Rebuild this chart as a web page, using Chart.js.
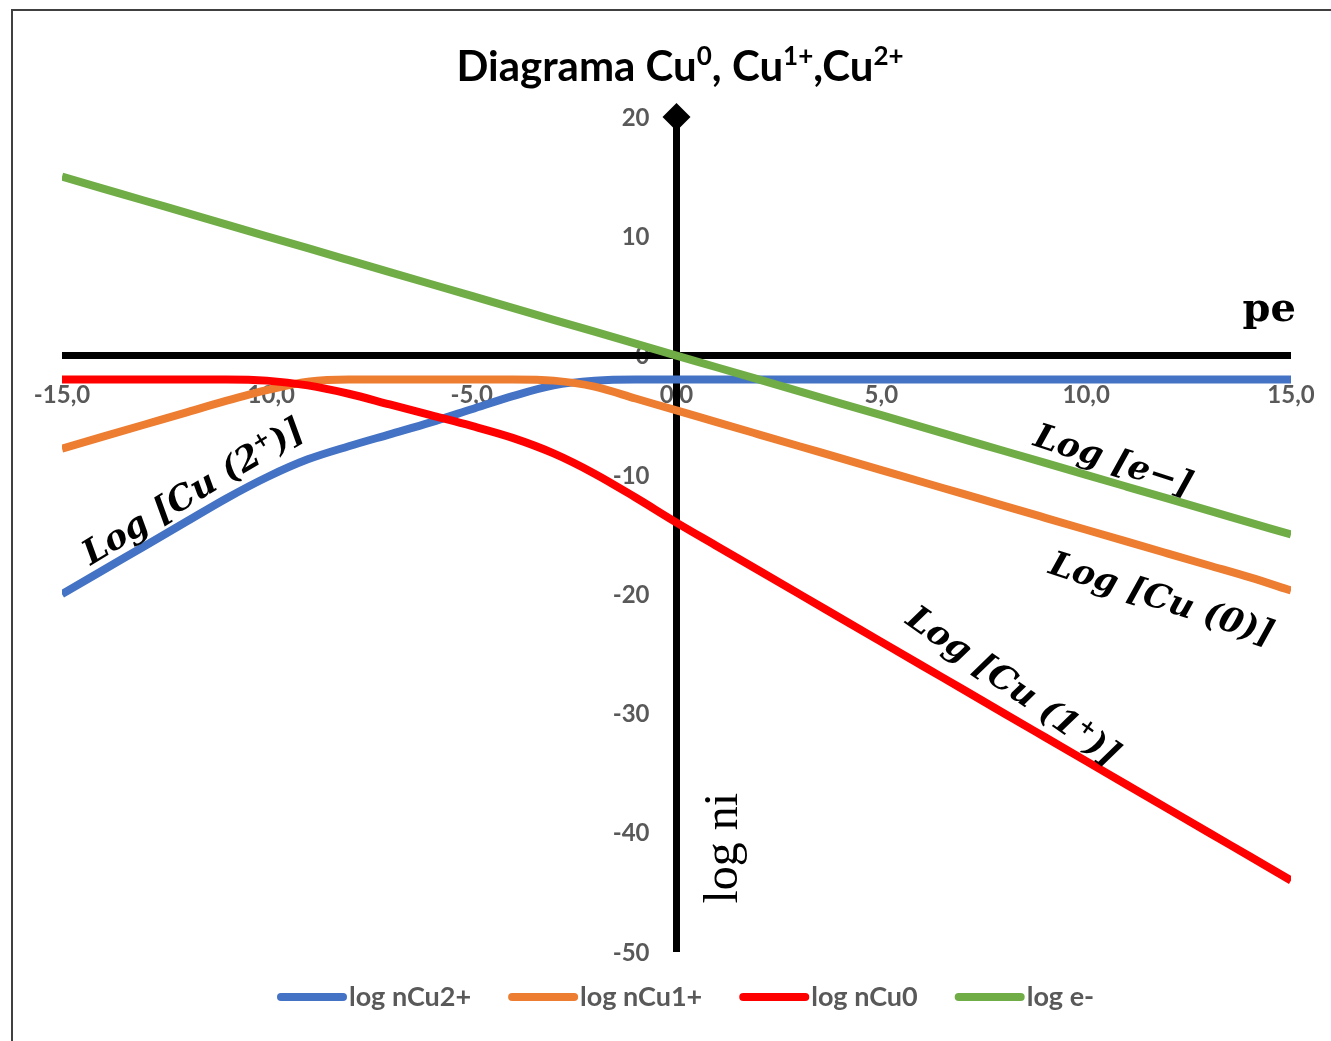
<!DOCTYPE html>
<html>
<head>
<meta charset="utf-8">
<title>Diagrama Cu0, Cu1+, Cu2+</title>
<script src="https://cdn.jsdelivr.net/npm/chart.js@4.4.1/dist/chart.umd.min.js"></script>
<style>
  html, body { margin: 0; padding: 0; background: #ffffff; }
  #wrap { width: 1331px; height: 1041px; }
</style>
</head>
<body>
<div id="wrap"><canvas id="chart" width="1331" height="1041"></canvas></div>
<script>
// pe values (x axis)
const pe = [-15, -14, -13, -12, -11, -10, -9, -8, -7, -6, -5, -4, -3, -2, -1,
            0, 1, 2, 3, 4, 5, 6, 7, 8, 9, 10, 11, 12, 13, 14, 15];

// log of each species at those pe values
const logCu2 = [-20.0, -18.0, -16.0, -14.0, -12.0, -10.2, -8.7, -7.6, -6.6, -5.6, -4.5, -3.4, -2.5, -2.1, -2.0,
                -2.0, -2.0, -2.0, -2.0, -2.0, -2.0, -2.0, -2.0, -2.0, -2.0, -2.0, -2.0, -2.0, -2.0, -2.0, -2.0];
const logCu1 = [-7.8, -6.8, -5.8, -4.8, -3.8, -2.9, -2.2, -2.0, -2.0, -2.0, -2.0, -2.0, -2.1, -2.6, -3.6,
                -4.6, -5.6, -6.6, -7.6, -8.6, -9.6, -10.6, -11.6, -12.6, -13.6, -14.6, -15.6, -16.6, -17.6, -18.6, -19.7];
const logCu0 = [-2.0, -2.0, -2.0, -2.0, -2.0, -2.1, -2.5, -3.2, -4.1, -5.0, -5.9, -6.9, -8.2, -9.9, -11.9,
                -14.0, -16.0, -18.0, -20.0, -22.0, -24.0, -26.0, -28.0, -30.0, -32.0, -34.0, -36.0, -38.0, -40.0, -42.0, -44.0];
const logE   = [15, 14, 13, 12, 11, 10, 9, 8, 7, 6, 5, 4, 3, 2, 1,
                0, -1, -2, -3, -4, -5, -6, -7, -8, -9, -10, -11, -12, -13, -14, -15];

// series names and colours
const seriesNames  = ['log nCu2+', 'log nCu1+', 'log nCu0', 'log e-'];
const seriesColors = ['#4472C4', '#ED7D31', '#FF0000', '#70AD47'];

// tick values
const xTickValues = [-15, -10, -5, 0, 5, 10, 15];
const yTickValues = [20, 10, 0, -10, -20, -30, -40, -50];

// title pieces: [text, superscript?]
const titleParts = [['Diagrama Cu', false], ['0', true], [', Cu', false], ['1+', true], [',Cu', false], ['2+', true]];

// curve labels, anchored at (pe, log) and rotated along the curves
const curveLabels = [
  { parts: [['Log [Cu (2', false], ['+', true], [')]', false]], pe: -14.3, log: -17.6, angle: -31 },
  { parts: [['Log [e\u2212]', false]],                            pe: 8.68,  log: -7.5,  angle: 18 },
  { parts: [['Log [Cu (0)]', false]],                             pe: 9.05,  log: -18.2, angle: 18 },
  { parts: [['Log [Cu (1', false], ['+', true], [')]', false]], pe: 5.56,  log: -22.4, angle: 35 }
];

function toPoints(ys) { return pe.map((x, i) => ({ x: x, y: ys[i] })); }
function fmtX(v) { return v.toFixed(1).replace('.', ','); }

// draws text made of normal and superscript pieces starting at (x, y) baseline
function drawRich(ctx, parts, x, y, size, family, weight, style) {
  let cx = x;
  for (const [t, sup] of parts) {
    const s = sup ? Math.round(size * 0.62) : size;
    ctx.font = `${style || 'normal'} ${weight} ${s}px ${family}`;
    ctx.fillText(t, cx, sup ? y - size * 0.38 : y);
    cx += ctx.measureText(t).width;
  }
  return cx - x;
}
function richWidth(ctx, parts, size, family, weight, style) {
  let w = 0;
  for (const [t, sup] of parts) {
    const s = sup ? Math.round(size * 0.62) : size;
    ctx.font = `${style || 'normal'} ${weight} ${s}px ${family}`;
    w += ctx.measureText(t).width;
  }
  return w;
}

const TICK_FONT = '"Lato", "Liberation Sans", sans-serif';
const TICK_COLOR = '#595959';

const crossAxes = {
  id: 'crossAxes',
  beforeDraw(chart) {
    const ctx = chart.ctx;
    ctx.save();
    ctx.fillStyle = '#ffffff';
    ctx.fillRect(0, 0, chart.width, chart.height);
    // outer frame (top and left edges)
    ctx.strokeStyle = '#404040';
    ctx.lineWidth = 2;
    ctx.beginPath();
    ctx.moveTo(1331, 10); ctx.lineTo(12, 10); ctx.lineTo(12, 1041);
    ctx.stroke();

    // title
    ctx.fillStyle = '#000000';
    ctx.textBaseline = 'alphabetic';
    ctx.textAlign = 'left';
    const tSize = 42;
    const tw = richWidth(ctx, titleParts, tSize, '"Lato", sans-serif', 'bold');
    drawRich(ctx, titleParts, 680 - tw / 2, 81, tSize, '"Lato", sans-serif', 'bold');
    ctx.restore();
  },
  beforeDatasetsDraw(chart) {
    const ctx = chart.ctx;
    const xs = chart.scales.x, ys = chart.scales.y;
    const x0 = xs.getPixelForValue(0), y0 = ys.getPixelForValue(0);
    ctx.save();
    // tick labels
    ctx.fillStyle = TICK_COLOR;
    ctx.font = `bold 24px ${TICK_FONT}`;
    ctx.textAlign = 'center';
    ctx.textBaseline = 'middle';
    for (const v of xTickValues) ctx.fillText(fmtX(v), xs.getPixelForValue(v), y0 + 40);
    ctx.textAlign = 'right';
    for (const v of yTickValues) ctx.fillText(String(v), x0 - 27, ys.getPixelForValue(v) + 1);

    // axis lines crossing at the origin
    ctx.strokeStyle = '#000000';
    ctx.lineWidth = 7;
    ctx.lineCap = 'butt';
    ctx.beginPath();
    ctx.moveTo(xs.getPixelForValue(-15), y0);
    ctx.lineTo(xs.getPixelForValue(15), y0);
    ctx.stroke();
    const yTop = ys.getPixelForValue(20), yBot = ys.getPixelForValue(-50);
    ctx.beginPath();
    ctx.moveTo(x0, yTop + 6);
    ctx.lineTo(x0, yBot);
    ctx.stroke();
    // diamond arrow head
    ctx.fillStyle = '#000000';
    ctx.beginPath();
    ctx.moveTo(x0, yTop - 14);
    ctx.lineTo(x0 + 14, yTop);
    ctx.lineTo(x0, yTop + 14);
    ctx.lineTo(x0 - 14, yTop);
    ctx.closePath();
    ctx.fill();

    // axis titles
    ctx.fillStyle = '#000000';
    ctx.textAlign = 'right';
    ctx.textBaseline = 'alphabetic';
    ctx.font = 'bold 40px "DejaVu Serif", serif';
    ctx.fillText('pe', 1296, 321);
    ctx.save();
    ctx.translate(x0 + 60, ys.getPixelForValue(-41.3));
    ctx.rotate(-Math.PI / 2);
    ctx.textAlign = 'center';
    ctx.font = 'normal 48px "Liberation Serif", serif';
    ctx.fillText('log ni', 0, 0);
    ctx.restore();
    ctx.restore();
  },
  afterDatasetsDraw(chart) {
    const ctx = chart.ctx;
    const xs = chart.scales.x, ys = chart.scales.y;
    ctx.save();
    ctx.fillStyle = '#000000';
    ctx.textAlign = 'left';
    ctx.textBaseline = 'alphabetic';
    for (const lab of curveLabels) {
      ctx.save();
      ctx.translate(xs.getPixelForValue(lab.pe), ys.getPixelForValue(lab.log));
      ctx.rotate(lab.angle * Math.PI / 180);
      drawRich(ctx, lab.parts, 0, 0, 34, '"DejaVu Serif", serif', 'bold', 'italic');
      ctx.restore();
    }

    // legend
    ctx.font = `bold 27px ${TICK_FONT}`;
    ctx.textBaseline = 'middle';
    let lx = 277;
    const ly = 997;
    seriesNames.forEach((name, i) => {
      ctx.strokeStyle = seriesColors[i];
      ctx.lineWidth = 8;
      ctx.lineCap = 'round';
      ctx.beginPath();
      ctx.moveTo(lx + 4, ly);
      ctx.lineTo(lx + 66, ly);
      ctx.stroke();
      ctx.fillStyle = TICK_COLOR;
      ctx.fillText(name, lx + 72, ly);
      lx += 72 + ctx.measureText(name).width + 37;
    });
    ctx.restore();
  }
};

const seriesData = [logCu2, logCu1, logCu0, logE];

new Chart(document.getElementById('chart'), {
  type: 'line',
  data: {
    datasets: seriesData.map((ys, i) => ({
      label: seriesNames[i],
      data: toPoints(ys),
      borderColor: seriesColors[i],
      backgroundColor: seriesColors[i],
      borderWidth: 8,
      pointRadius: 0,
      fill: false,
      cubicInterpolationMode: 'monotone',
      borderJoinStyle: 'round',
      order: seriesData.length - i
    }))
  },
  options: {
    responsive: false,
    animation: false,
    layout: { padding: { left: 62, right: 40, top: 117, bottom: 89 } },
    plugins: {
      legend: { display: false },
      title: { display: false },
      tooltip: { enabled: false }
    },
    scales: {
      x: { type: 'linear', min: -15, max: 15, display: false },
      y: { type: 'linear', min: -50, max: 20, display: false }
    }
  },
  plugins: [crossAxes]
});
</script>
</body>
</html>
